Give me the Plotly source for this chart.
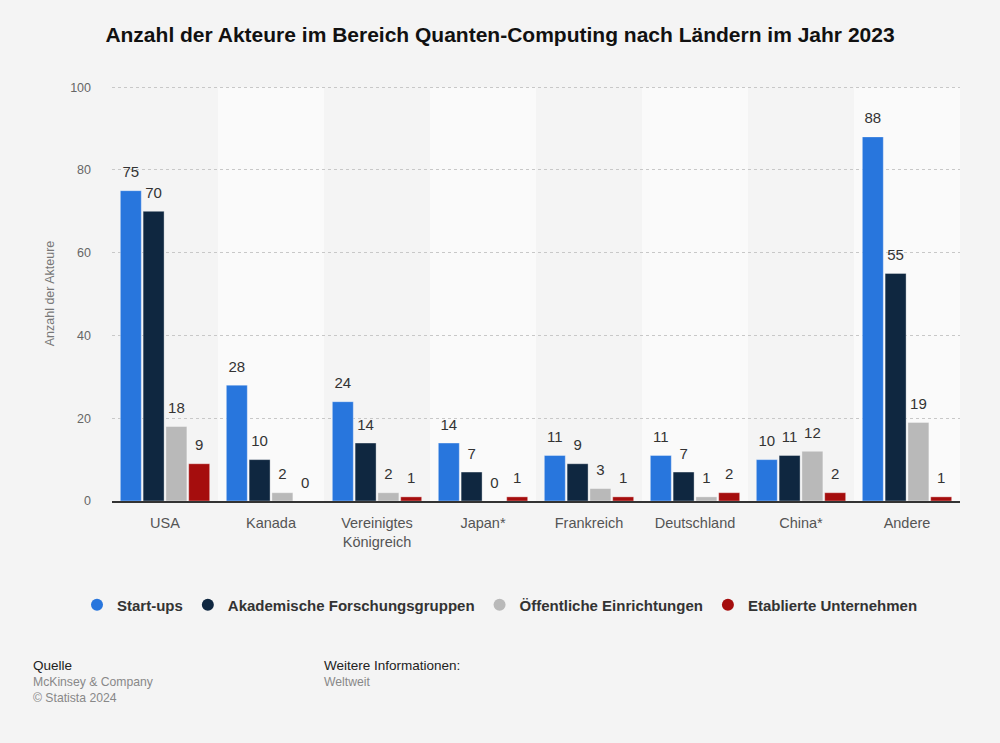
import plotly.graph_objects as go

categories = ["USA", "Kanada", "Vereinigtes<br>Königreich", "Japan*", "Frankreich",
              "Deutschland", "China*", "Andere"]
startups = [75, 28, 24, 14, 11, 11, 10, 88]
akademisch = [70, 10, 14, 7, 9, 7, 11, 55]
oeffentlich = [18, 2, 2, 0, 3, 1, 12, 19]
etabliert = [9, 0, 1, 1, 1, 2, 2, 1]

series_names = ["Start-ups", "Akademische Forschungsgruppen",
                "Öffentliche Einrichtungen", "Etablierte Unternehmen"]
series_values = [startups, akademisch, oeffentlich, etabliert]
colors = ["#2876dd", "#0f2740", "#b9b9b9", "#a50d0d"]

FONT = "Liberation Sans, Arial, sans-serif"
W, H = 1000, 743
L, R, T, B = 112, 40, 86, 242
plot_h = H - T - B
plot_w = W - L - R
BARGAP = 0.14

def py(pix):
    return (H - B - pix) / plot_h

def px(pix):
    return (pix - L) / plot_w

fig = go.Figure()

for k, (name, vals, col) in enumerate(zip(series_names, series_values, colors)):
    fig.add_trace(go.Bar(
        x=categories, y=vals, name=name, marker_color=col,
        marker_line=dict(color="rgba(255,255,255,0.35)", width=1),
        offsetgroup=str(k), showlegend=False, hoverinfo="skip",
    ))
for k, (name, vals, col) in enumerate(zip(series_names, series_values, colors)):
    fig.add_trace(go.Scatter(
        x=categories, y=vals, mode="markers+text", offsetgroup=str(k),
        text=[str(v) for v in vals], textposition="top center",
        marker=dict(size=14, color="rgba(0,0,0,0)"),
        textfont=dict(family=FONT, size=15, color="#333333"),
        cliponaxis=False, showlegend=False, hoverinfo="skip",
    ))
for name, col in zip(series_names, colors):
    fig.add_trace(go.Scatter(
        x=[None], y=[None], mode="markers", name=name,
        marker=dict(color=col, size=16, symbol="circle"),
        xaxis="x2", yaxis="y2", showlegend=True,
    ))

shapes = []
for i in range(len(categories)):
    if i % 2 == 1:
        shapes.append(dict(type="rect", xref="x", yref="y",
                           x0=i - 0.5, x1=i + 0.5, y0=0, y1=100,
                           fillcolor="#fafafa", line_width=0, layer="below"))

dark = dict(family=FONT, size=13.5, color="#222222")
grey = dict(family=FONT, size=12.2, color="#888888")
annotations = [
    dict(text="Quelle", x=px(31), y=py(665), font=dark),
    dict(text="McKinsey & Company", x=px(31), y=py(682), font=grey),
    dict(text="© Statista 2024", x=px(31), y=py(698), font=grey),
    dict(text="Weitere Informationen:", x=px(322), y=py(665), font=dark),
    dict(text="Weltweit", x=px(322), y=py(682), font=grey),
]
for a in annotations:
    a.update(xref="paper", yref="paper", xanchor="left", yanchor="middle", showarrow=False)

fig.update_layout(
    width=W, height=H,
    margin=dict(l=L, r=R, t=T, b=B),
    paper_bgcolor="#f4f4f4", plot_bgcolor="#f4f4f4",
    barmode="group", bargap=BARGAP, bargroupgap=0.08,
    scattermode="group", scattergap=BARGAP,
    title=dict(text="<b>Anzahl der Akteure im Bereich Quanten-Computing nach Ländern im Jahr 2023</b>",
               x=0.5, xanchor="center", y=1 - 35 / H, yanchor="middle",
               font=dict(family=FONT, size=21, color="#111111")),
    xaxis=dict(showline=True, linecolor="#333333", linewidth=1.5,
               tickfont=dict(family=FONT, size=14.5, color="#555555"),
               ticks="", showgrid=False, ticklabelstandoff=8),
    yaxis=dict(range=[0, 100.3], tickvals=[0, 20, 40, 60, 80, 100], showgrid=True,
               gridcolor="#c8c8c8", griddash="dot", gridwidth=1, zeroline=False,
               tickfont=dict(family=FONT, size=12.5, color="#666666"),
               ticklabelstandoff=20,
               title=dict(text="Anzahl der Akteure", standoff=12,
                          font=dict(family=FONT, size=12.5, color="#777777"))),
    xaxis2=dict(overlaying="x", visible=False),
    yaxis2=dict(overlaying="y", visible=False),
    legend=dict(orientation="h", xref="container", x=0.5, xanchor="center",
                yref="container", y=1 - 605 / H, yanchor="middle",
                font=dict(family=FONT, size=15, color="#333333", weight="bold"),
                itemsizing="constant", bgcolor="rgba(0,0,0,0)"),
    shapes=shapes,
    annotations=annotations,
)

fig.write_html("out.html", config={"displayModeBar": False},
               post_script="document.body.style.margin='0';document.body.style.background='#f4f4f4';")
